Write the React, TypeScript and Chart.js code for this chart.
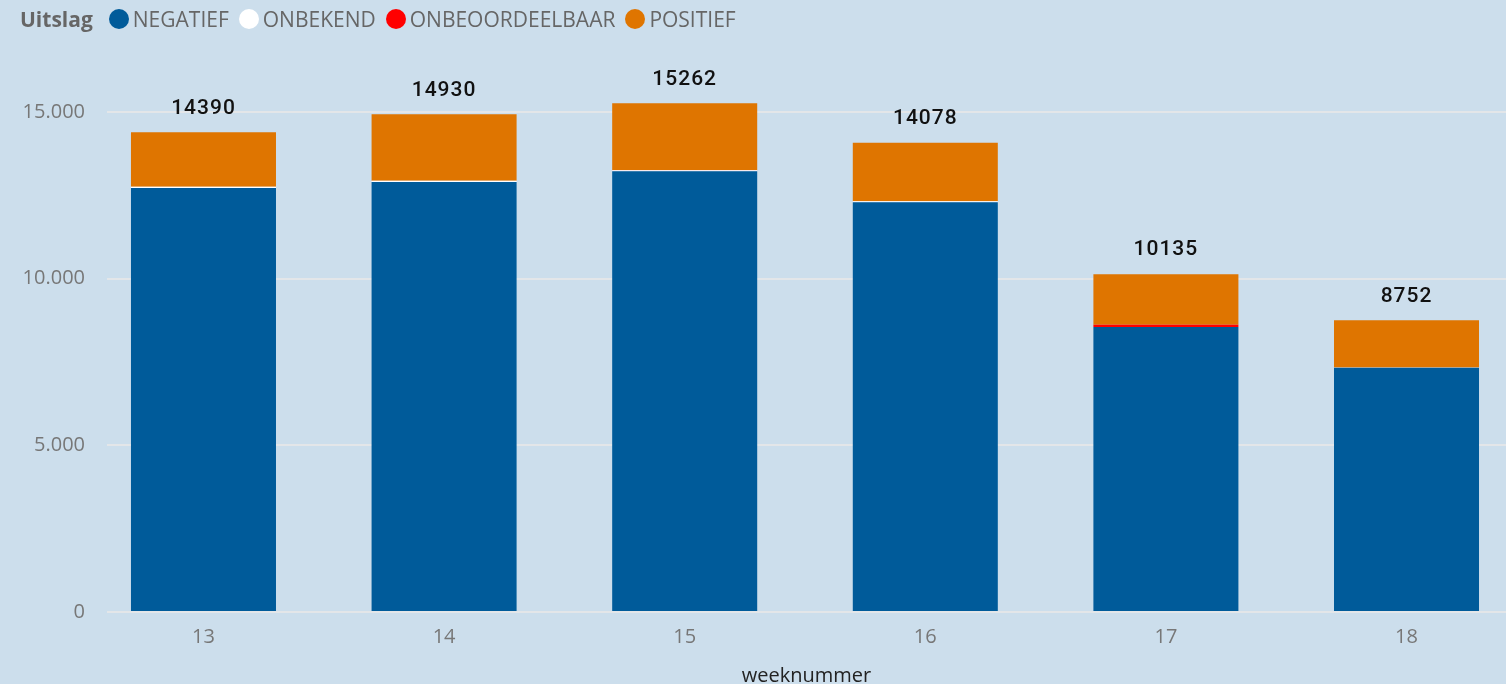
import React, { useEffect, useRef } from "react";
import { Chart, registerables } from "chart.js";

Chart.register(...registerables);

const weeks = [13, 14, 15, 16, 17, 18];
const negatief = [12720, 12900, 13220, 12290, 8550, 7330];
const onbekend = [35, 35, 35, 30, 2, 5];
const onbeoordeelbaar = [3, 3, 3, 3, 65, 3];
const positief = [1632, 1992, 2004, 1755, 1518, 1414];
const yTicks = [0, 5000, 10000, 15000];

const seriesNames = ["NEGATIEF", "ONBEKEND", "ONBEOORDEELBAAR", "POSITIEF"];
const seriesColors = ["#005B9A", "#FFFFFF", "#FF0000", "#DF7500"];
const seriesValues = [negatief, onbekend, onbeoordeelbaar, positief];

const BG = "#CCDEEC";

function fmt(v: number): string {
  return String(Math.round(v)).replace(/\B(?=(\d{3})+(?!\d))/g, ".");
}

const totalsPlugin = {
  id: "totals",
  afterDatasetsDraw(chart: any) {
    const ctx = chart.ctx;
    const n = chart.data.datasets.length;
    const topMeta = chart.getDatasetMeta(n - 1);
    ctx.save();
    ctx.font = "500 21px Roboto";
    ctx.fillStyle = "#111111";
    ctx.textAlign = "center";
    ctx.textBaseline = "middle";
    try {
      (ctx as any).letterSpacing = "1px";
    } catch (e) {}
    weeks.forEach((_, i) => {
      let total = 0;
      for (let d = 0; d < n; d++) total += chart.data.datasets[d].data[i].y;
      const el = topMeta.data[i];
      ctx.fillText(String(total), el.x, el.y - 24);
    });
    ctx.restore();
  },
};

export default function App() {
  const canvasRef = useRef<HTMLCanvasElement>(null);

  useEffect(() => {
    document.body.style.margin = "0";
    const canvas = canvasRef.current;
    if (!canvas) return;
    const chart = new Chart(canvas, {
      type: "bar",
      data: {
        datasets: seriesNames.map((name, s) => ({
          label: name,
          data: weeks.map((w, i) => ({ x: w, y: seriesValues[s][i] })),
          backgroundColor: seriesColors[s],
          borderWidth: 0,
          inflateAmount: 0,
          categoryPercentage: 1,
          barPercentage: 0.6027,
        })),
      },
      options: {
        animation: false,
        responsive: false,
        maintainAspectRatio: false,
        layout: { padding: { top: 62, right: 0, bottom: 0, left: 0 } },
        plugins: {
          legend: { display: false },
          tooltip: { enabled: false },
        },
        scales: {
          x: {
            type: "linear",
            stacked: true,
            offset: false,
            min: 12.599,
            max: 18.4135,
            grid: { display: false, offset: false },
            border: { display: false },
            ticks: {
              stepSize: 1,
              includeBounds: false,
              padding: 5,
              color: "#777777",
              font: { family: "'Open Sans'", size: 20 },
              callback: (v: any) => String(v),
            },
            title: {
              display: true,
              text: "weeknummer",
              color: "#222222",
              font: { family: "'Open Sans'", size: 20, lineHeight: 0.8 },
              padding: { top: 0, bottom: 0 },
            },
            afterFit: (scale: any) => {
              scale.height = 72;
            },
          },
          y: {
            stacked: true,
            min: 0,
            max: 16500,
            afterBuildTicks: (scale: any) => {
              scale.ticks = yTicks.map((v) => ({ value: v }));
            },
            grid: {
              color: "#E3E6E9",
              lineWidth: 2,
              drawTicks: false,
            },
            border: { display: false },
            ticks: {
              padding: 22,
              color: "#777777",
              font: { family: "'Open Sans'", size: 20 },
              callback: (v: any) => fmt(Number(v)),
            },
            afterFit: (scale: any) => {
              scale.width = 107;
            },
          },
        },
      },
      plugins: [totalsPlugin],
    });
    return () => chart.destroy();
  }, []);

  const legendFont = "'Open Sans', 'Noto Sans', sans-serif";

  return (
    <div
      style={{
        position: "fixed",
        left: 0,
        top: 0,
        width: 1506,
        height: 684,
        background: BG,
        overflow: "hidden",
      }}
    >
      <canvas
        ref={canvasRef}
        width={1506}
        height={684}
        style={{ position: "absolute", left: 0, top: 0, width: 1506, height: 684 }}
      />
      <div
        style={{
          position: "absolute",
          left: 20,
          top: 0,
          height: 38,
          display: "flex",
          alignItems: "center",
          fontFamily: legendFont,
          fontSize: 21,
          color: "#666666",
          whiteSpace: "nowrap",
        }}
      >
        <span style={{ fontWeight: 700, marginRight: 16 }}>Uitslag</span>
        {seriesNames.map((name, s) => (
          <span key={name} style={{ display: "flex", alignItems: "center", marginRight: 10 }}>
            <span
              style={{
                display: "inline-block",
                width: 20,
                height: 20,
                borderRadius: 10,
                background: seriesColors[s],
                marginRight: 4,
              }}
            />
            <span>{name}</span>
          </span>
        ))}
      </div>
    </div>
  );
}
